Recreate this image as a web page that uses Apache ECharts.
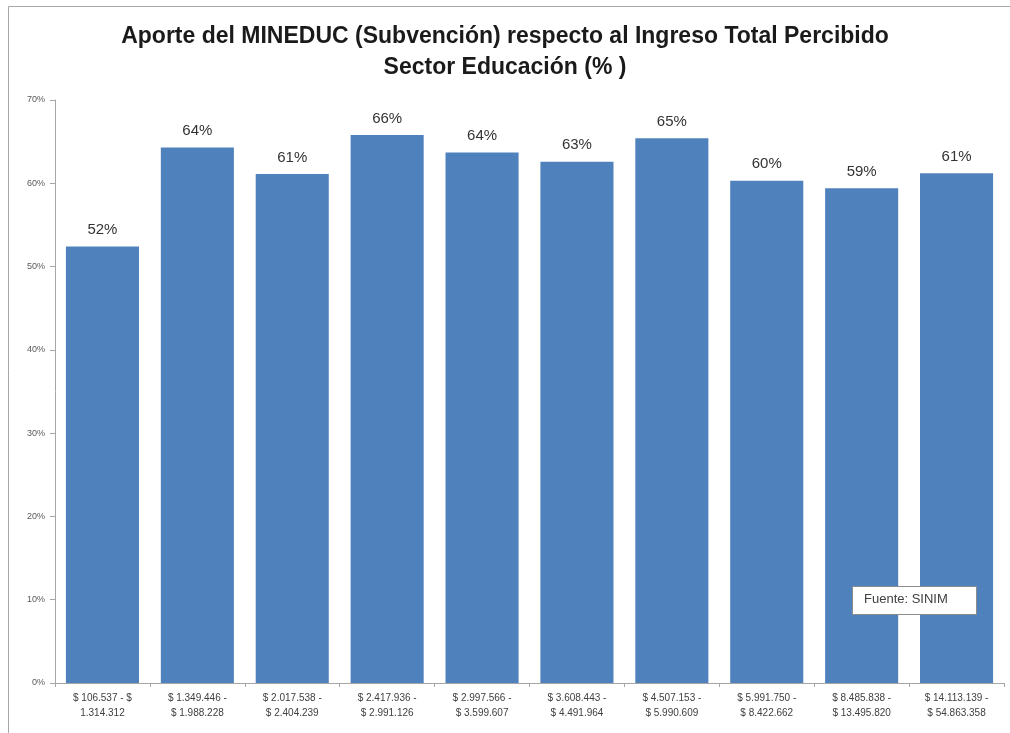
<!DOCTYPE html>
<html>
<head>
<meta charset="utf-8">
<script src="https://cdn.jsdelivr.net/npm/echarts@6/dist/echarts.min.js"></script>
<style>
html,body{margin:0;padding:0;background:#fff;}
#Charts{width:1010px;height:733px;}
</style>
</head>
<body>
<div id="Charts"></div>
<script>
var categories = [
	'$ 106.537 - $\n1.314.312',
	'$ 1.349.446 -\n$ 1.988.228',
	'$ 2.017.538 -\n$ 2.404.239',
	'$ 2.417.936 -\n$ 2.991.126',
	'$ 2.997.566 -\n$ 3.599.607',
	'$ 3.608.443 -\n$ 4.491.964',
	'$ 4.507.153 -\n$ 5.990.609',
	'$ 5.991.750 -\n$ 8.422.662',
	'$ 8.485.838 -\n$ 13.495.820',
	'$ 14.113.139 -\n$ 54.863.358'
];
var aporte = [52.4, 64.3, 61.1, 65.8, 63.7, 62.6, 65.4, 60.3, 59.4, 61.2];
var yTicks = [0, 10, 20, 30, 40, 50, 60, 70];

init();
function init(){
	var option = {
		animation:false,
		title:{
			text:'Aporte del MINEDUC (Subvención) respecto al Ingreso Total Percibido\nSector Educación (% )',
			left:'center',
			top:16,
			textStyle:{
				fontFamily:'Liberation Sans',
				fontSize:23,
				fontWeight:'bold',
				color:'#1a1a1a',
				lineHeight:31
			}
		},
		grid:{
			left:55,
			right:6,
			top:100,
			bottom:50
		},
		xAxis:[
			{
				type:'category',
				data:categories,
				axisLine:{lineStyle:{color:'#a6a6a6'}},
				axisTick:{show:true,length:4,lineStyle:{color:'#a6a6a6'}},
				axisLabel:{
					interval:0,
					color:'#404040',
					fontFamily:'Liberation Sans',
					fontSize:10,
					lineHeight:15,
					margin:8
				}
			}
		],
		yAxis:[
			{
				type:'value',
				min:yTicks[0],
				max:yTicks[yTicks.length-1],
				interval:10,
				splitLine:{show:false},
				axisLine:{show:true,lineStyle:{color:'#a6a6a6'}},
				axisTick:{show:true,length:5,lineStyle:{color:'#a6a6a6'}},
				axisLabel:{
					formatter:'{value}%',
					color:'#595959',
					fontFamily:'Liberation Sans',
					fontSize:9,
					margin:10
				}
			}
		],
		series:[
			{
				name:'Aporte',
				type:'bar',
				data:aporte,
				barCategoryGap:'23%',
				itemStyle:{color:'#4f81bd'},
				label:{
					show:true,
					position:'top',
					distance:9,
					color:'#333333',
					fontFamily:'Liberation Sans',
					fontSize:15,
					formatter:function(p){return Math.round(p.value)+'%';}
				}
			}
		],
		graphic:[
			{
				type:'rect',
				left:6,
				top:4,
				shape:{width:1020,height:760},
				style:{fill:'none',stroke:'#a6a6a6',lineWidth:1},
				silent:true
			},
			{
				type:'rect',
				left:852,
				top:586,
				shape:{width:124,height:28},
				style:{fill:'#fff',stroke:'#8c8c8c',lineWidth:1},
				z:10
			},
			{
				type:'text',
				left:864,
				top:593,
				style:{text:'Fuente: SINIM',fill:'#404040',font:'13px Liberation Sans'},
				z:11
			}
		]
	};
	var myChart = echarts.init(document.getElementById('Charts'));
	myChart.setOption(option);
}
</script>
</body>
</html>
